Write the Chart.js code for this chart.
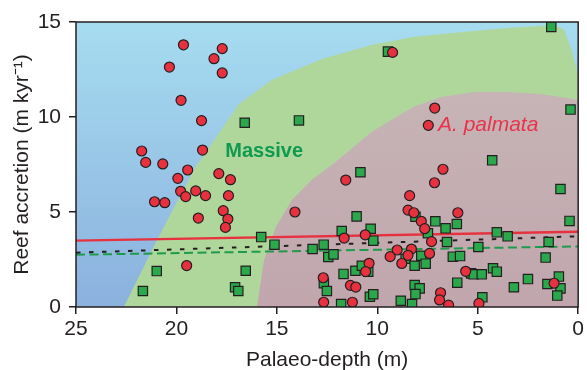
<!DOCTYPE html>
<html>
<head>
<meta charset="utf-8">
<script src="https://cdn.jsdelivr.net/npm/chart.js@4"></script>
<style>
  html, body { margin: 0; padding: 0; background: #fff; }
</style>
</head>
<body>
<canvas id="graficoRecife" width="587" height="370"></canvas>
<script>
// A. palmata samples (red circles): palaeo-depth (m), accretion (m/kyr)
const palmataDepth = [
  19.65, 17.72, 18.13, 20.35, 17.72, 19.77, 18.75, 21.73, 18.7, 21.53,
  20.68, 19.44, 19.93, 17.89, 17.31, 19.79, 19.54, 19.04, 18.55, 17.41,
  21.09, 20.58, 18.91, 17.67, 17.44, 17.56, 19.49, 14.1, 9.24, 7.14,
  7.46, 11.57, 11.65, 12.69, 11.34, 11.07, 12.67, 11.24, 6.73, 7.15,
  8.39, 8.47, 8.18, 7.81, 7.64, 5.99, 10.6, 7.3, 9.01, 9.36,
  8.3, 8.47, 8.78, 7.4, 5.6, 10.41, 10.58, 6.85, 6.9, 6.45,
  1.2, 4.94
];
const palmataRate = [
  13.8, 13.6, 13.07, 12.63, 12.32, 10.88, 9.81, 8.21, 8.26, 7.61,
  7.53, 7.21, 6.77, 7.02, 6.7, 6.09, 5.81, 6.11, 5.86, 5.86,
  5.54, 5.49, 4.68, 5.07, 4.63, 4.19, 2.18, 5.0, 13.4, 10.47,
  9.56, 6.68, 3.63, 1.54, 1.14, 1.05, 0.25, 0.25, 7.25, 6.54,
  5.86, 5.1, 4.96, 4.51, 4.12, 4.96, 3.8, 3.44, 3.0, 2.65,
  3.05, 2.72, 2.29, 2.82, 1.88, 2.3, 1.86, 0.75, 0.37, 0.1,
  1.25, 0.19
];

// Massive coral samples (green squares)
const massiveDepth = [
  20.98, 21.67, 17.08, 16.92, 16.55, 15.78, 15.12, 16.6, 13.9, 9.47,
  1.34, 0.38, 4.28, 10.84, 11.03, 11.77, 12.67, 13.22, 12.44, 12.18,
  12.66, 12.51, 11.68, 11.09, 11.8, 10.33, 10.2, 8.1, 7.11, 6.6,
  6.04, 6.53, 8.59, 8.14, 7.81, 7.59, 6.24, 5.88, 5.33, 10.45,
  10.37, 10.2, 8.14, 7.89, 8.1, 8.83, 8.27, 6.02, 0.88, 0.43,
  4.05, 3.51, 1.47, 4.97, 1.62, 5.2, 4.8, 4.24, 4.05, 2.5,
  3.2, 1.53, 0.96, 0.88, 1.04, 4.77, 10.77, 7.48
];
const massiveRate = [
  1.89, 0.84, 1.04, 0.84, 1.91, 3.68, 3.28, 9.7, 9.82, 13.44,
  14.74, 10.39, 7.72, 7.09, 4.77, 4.0, 3.28, 3.05, 2.63, 2.77,
  1.25, 0.84, 1.74, 1.91, 0.16, 4.12, 3.49, 4.75, 4.51, 4.14,
  4.37, 3.42, 2.54, 2.17, 2.7, 2.28, 2.65, 2.68, 1.77, 1.86,
  0.54, 0.67, 1.16, 0.98, 0.68, 0.33, 0.16, 1.28, 6.21, 4.53,
  3.93, 3.72, 3.42, 3.16, 2.6, 1.72, 1.72, 2.04, 1.86, 1.47,
  1.04, 1.21, 1.6, 0.98, 0.6, 0.51, 2.17, 3.88
];

// regression lines (ends at 25 m and 0 m)
const fitDepth = [25, 0];
const fitPalmata = [3.49, 3.96];
const fitAll = [2.86, 3.72];
const fitMassive = [2.75, 3.19];

// habitat zones, outlined in data units
const massiveZoneDepth = [22.62, 20.89, 19.06, 18.81, 16.88, 15.25, 12.77, 10.3, 8.22, 6.83, 3.51, 1.19, 0.69, 0.3, 0.0, 0.0];
const massiveZoneRate  = [0, 3.68, 7.37, 7.74, 10.68, 11.95, 13.05, 13.79, 14.21, 14.37, 14.68, 14.84, 14.58, 13.42, 12.2, 0];
const palmataZoneDepth = [15.99, 15.64, 15.05, 14.26, 13.27, 12.08, 10.3, 8.22, 6.83, 5.15, 3.51, 1.88, 0.2, 0.0, 0.0];
const palmataZoneRate  = [0, 2.47, 4.21, 5.63, 6.68, 7.63, 9.21, 10.53, 11.05, 11.32, 11.32, 11.21, 10.95, 10.89, 0];

const xTicks = [25, 20, 15, 10, 5, 0];
const yTicks = [0, 5, 10, 15];

const fonte = "'Liberation Sans', Arial, sans-serif";
const escuro = "#231f20";

function pares(xs, ys) {
  return xs.map((x, i) => ({ x: x, y: ys[i] }));
}

const zonas = {
  id: "zonas",
  beforeDatasetsDraw(chart) {
    const { ctx, chartArea: a, scales: { x, y } } = chart;
    ctx.save();
    ctx.beginPath();
    ctx.rect(a.left, a.top, a.right - a.left, a.bottom - a.top);
    ctx.clip();

    const azul = ctx.createLinearGradient(0, a.top, 0, a.bottom);
    azul.addColorStop(0, "#a6dcf0");
    azul.addColorStop(1, "#8bb1de");
    ctx.fillStyle = azul;
    ctx.fillRect(a.left, a.top, a.right - a.left, a.bottom - a.top);

    function poligono(xs, ys, cor) {
      ctx.beginPath();
      xs.forEach((d, i) => {
        const px = x.getPixelForValue(d), py = y.getPixelForValue(ys[i]);
        if (i === 0) ctx.moveTo(px, py); else ctx.lineTo(px, py);
      });
      ctx.closePath();
      ctx.fillStyle = cor;
      ctx.fill();
    }
    poligono(massiveZoneDepth, massiveZoneRate, "#b0d79b");
    const rosa = ctx.createLinearGradient(0, y.getPixelForValue(11.3), 0, a.bottom);
    rosa.addColorStop(0, "#c6b4b6");
    rosa.addColorStop(1, "#c1a6ad");
    poligono(palmataZoneDepth, palmataZoneRate, rosa);

    ctx.textBaseline = "middle";
    ctx.textAlign = "left";
    ctx.fillStyle = "#0e9a50";
    ctx.font = "bold 20px " + fonte;
    ctx.fillText("Massive", x.getPixelForValue(17.57), y.getPixelForValue(8.16));
    ctx.fillStyle = "#e8334a";
    ctx.font = "italic 21px " + fonte;
    ctx.fillText("A. palmata", x.getPixelForValue(6.98), y.getPixelForValue(9.58));
    ctx.restore();
  },
  afterDatasetsDraw(chart) {
    const { ctx, chartArea: a } = chart;
    ctx.save();
    ctx.strokeStyle = escuro;
    ctx.lineWidth = 1.5;
    ctx.strokeRect(a.left, a.top, a.right - a.left, a.bottom - a.top);
    ctx.restore();
  }
};

const ctx = document.getElementById("graficoRecife");

new Chart(ctx, {
  type: "scatter",
  data: {
    datasets: [
      {
        label: "A. palmata",
        data: pares(palmataDepth, palmataRate),
        pointStyle: "circle",
        pointRadius: 5,
        backgroundColor: "#e8313f",
        borderColor: escuro,
        borderWidth: 1.2
      },
      {
        label: "Massive",
        data: pares(massiveDepth, massiveRate),
        pointStyle: "rect",
        pointRadius: 6.6,
        backgroundColor: "#2ba84b",
        borderColor: escuro,
        borderWidth: 1.2
      },
      {
        label: "All",
        data: pares(fitDepth, fitAll),
        showLine: true,
        pointRadius: 0,
        borderColor: "#231f20",
        borderWidth: 2,
        borderDash: [4.5, 8.5]
      },
      {
        label: "Massive fit",
        data: pares(fitDepth, fitMassive),
        showLine: true,
        pointRadius: 0,
        borderColor: "#1f9b4c",
        borderWidth: 2,
        borderDash: [9, 4.5]
      },
      {
        label: "A. palmata fit",
        data: pares(fitDepth, fitPalmata),
        showLine: true,
        pointRadius: 0,
        borderColor: "#e8313f",
        borderWidth: 2.3
      }
    ]
  },
  options: {
    responsive: false,
    animation: false,
    layout: { padding: { top: 22, right: 6, left: 0, bottom: 0 } },
    plugins: {
      legend: { display: false },
      tooltip: { enabled: false }
    },
    scales: {
      x: {
        type: "linear",
        reverse: true,
        min: 0,
        max: 25,
        afterFit(s) { s.height = 63; },
        afterBuildTicks(s) { s.ticks = xTicks.map(v => ({ value: v })); },
        ticks: { color: escuro, padding: 3, font: { family: fonte, size: 21 } },
        grid: { drawOnChartArea: false, tickLength: 7, color: escuro, lineWidth: 1.5 },
        border: { display: false },
        title: {
          display: true,
          text: "Palaeo-depth (m)",
          color: escuro,
          font: { family: fonte, size: 21 },
          padding: { top: 0, bottom: -3 }
        }
      },
      y: {
        min: 0,
        max: 15,
        afterFit(s) { s.width = 76; },
        afterBuildTicks(s) { s.ticks = yTicks.map(v => ({ value: v })); },
        ticks: { color: escuro, padding: 8, font: { family: fonte, size: 21 } },
        grid: { drawOnChartArea: false, tickLength: 7, color: escuro, lineWidth: 1.5 },
        border: { display: false },
        title: {
          display: true,
          text: "Reef accretion (m kyr\u207B\u00B9)",
          color: escuro,
          font: { family: fonte, size: 21 },
          padding: { top: 10, bottom: 0 }
        }
      }
    }
  },
  plugins: [zonas]
});
</script>
</body>
</html>
